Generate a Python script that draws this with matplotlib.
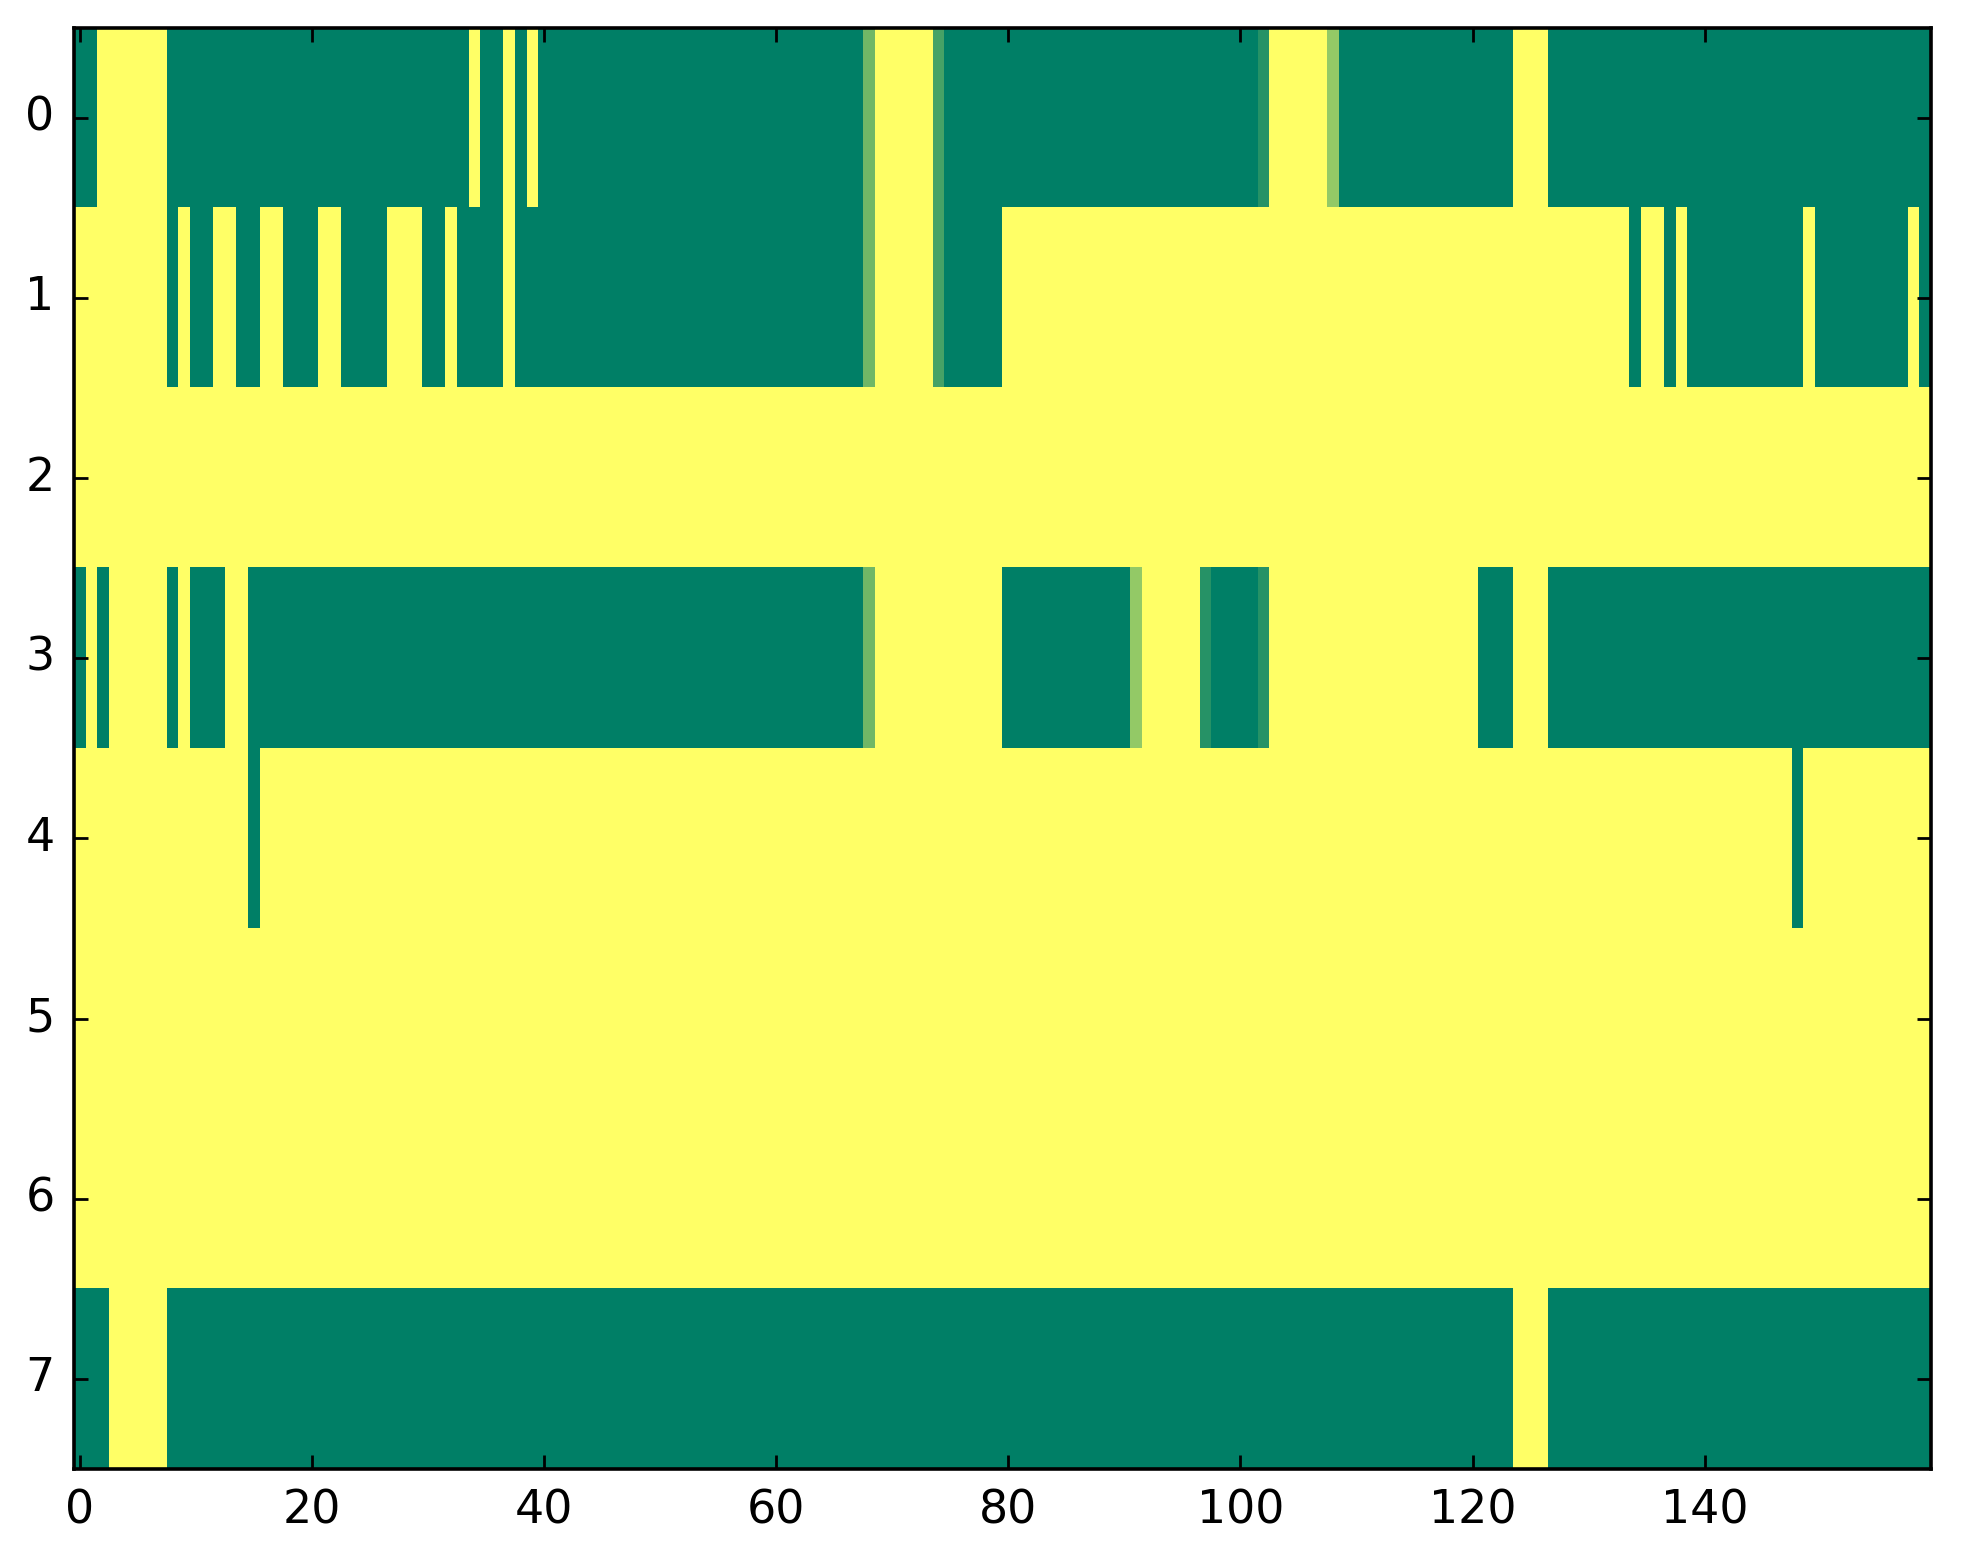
import numpy as np
import matplotlib
matplotlib.use("Agg")
import matplotlib.pyplot as plt

# each row (value, number of cells)
row0 = [(0, 2), (1, 6), (0, 26), (1, 1), (0, 2), (1, 1), (0, 1), (1, 1),
        (0, 28), (0.44, 1), (1, 5), (0.27, 1), (0, 27), (0.15, 1), (1, 5),
        (0.58, 1), (0, 15), (1, 3), (0, 33)]
row1 = [(1, 8), (0, 1), (1, 1), (0, 2), (1, 2), (0, 2), (1, 2), (0, 3),
        (1, 2), (0, 4), (1, 3), (0, 2), (1, 1), (0, 4), (1, 1), (0, 30),
        (0.44, 1), (1, 5), (0.27, 1), (0, 5), (1, 54), (0, 1), (1, 2),
        (0, 1), (1, 1), (0, 10), (1, 1), (0, 8), (1, 1), (0, 1)]
row2 = [(1, 160)]
row3 = [(0, 1), (1, 1), (0, 1), (1, 5), (0, 1), (1, 1), (0, 3), (1, 2),
        (0, 53), (0.44, 1), (1, 11), (0, 11), (0.58, 1), (1, 5), (0.15, 1),
        (0, 4), (0.15, 1), (1, 18), (0, 3), (1, 3), (0, 33)]
row4 = [(1, 15), (0, 1), (1, 132), (0, 1), (1, 11)]
row5 = [(1, 160)]
row6 = [(1, 160)]
row7 = [(0, 3), (1, 5), (0, 116), (1, 3), (0, 33)]

rows = [row0, row1, row2, row3, row4, row5, row6, row7]


def expand(runs):
    out = []
    for val, n in runs:
        out += [val] * n
    return out


data = np.array([expand(r) for r in rows], dtype=float)

plt.style.use("classic")
fig = plt.figure(figsize=(9.815, 7.82), dpi=200, facecolor="white")
ax = fig.add_axes([0.0377, 0.0607, 0.946, 0.9217])

ax.imshow(data, cmap="summer", vmin=0, vmax=1, aspect="auto",
          interpolation="nearest")
ax.set_xticks(range(0, 160, 20))
ax.set_yticks(range(8))
ax.set_xlim(-0.5, 159.5)
ax.set_ylim(7.5, -0.5)
ax.tick_params(labelsize=16.5, length=5, width=1, pad=7)
for sp in ax.spines.values():
    sp.set_linewidth(1.3)

fig.savefig("out.png", dpi=200, facecolor="white")
